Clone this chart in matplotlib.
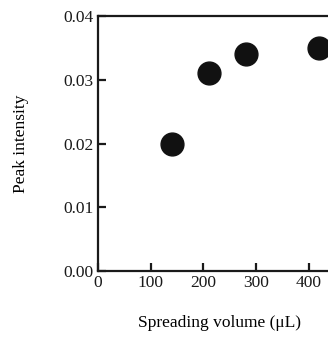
import matplotlib
matplotlib.use("Agg")
import matplotlib.pyplot as plt

volume = [140, 210, 280, 420]
intensity = [0.020, 0.031, 0.034, 0.035]
xticks = [0, 100, 200, 300, 400]
yticks = [0.00, 0.01, 0.02, 0.03, 0.04]

plt.rcParams['font.family'] = ['Liberation Serif', 'DejaVu Serif']

fig = plt.figure(figsize=(3.28, 3.39), dpi=100)
# axes runs past the right edge of the figure, like the cropped original
ax = fig.add_axes([98 / 328, (339 - 271) / 339, 263.5 / 328, 255 / 339])
ax.scatter(volume, intensity, s=270, color='#111111', zorder=3, clip_on=False)

ax.set_xlim(0, 500)
ax.set_ylim(0, 0.04)
ax.set_xticks(xticks)
ax.set_yticks(yticks)
ax.set_yticklabels(['%.2f' % v for v in yticks])
ax.tick_params(direction='in', length=6, width=1.6, labelsize=12.5, colors='#1a1a1a', pad=3)
ax.tick_params(axis='x', pad=3)
for s in ax.spines.values():
    s.set_linewidth(1.6)
    s.set_color('#1a1a1a')

ax.set_xlabel('Spreading volume (μL)', fontsize=12.5)
ax.set_ylabel('Peak intensity', fontsize=12.5, labelpad=25)
ax.xaxis.set_label_coords((220 - 98) / 263.5, -(315 - 271) / 255)

fig.savefig('out.png', dpi=100)
